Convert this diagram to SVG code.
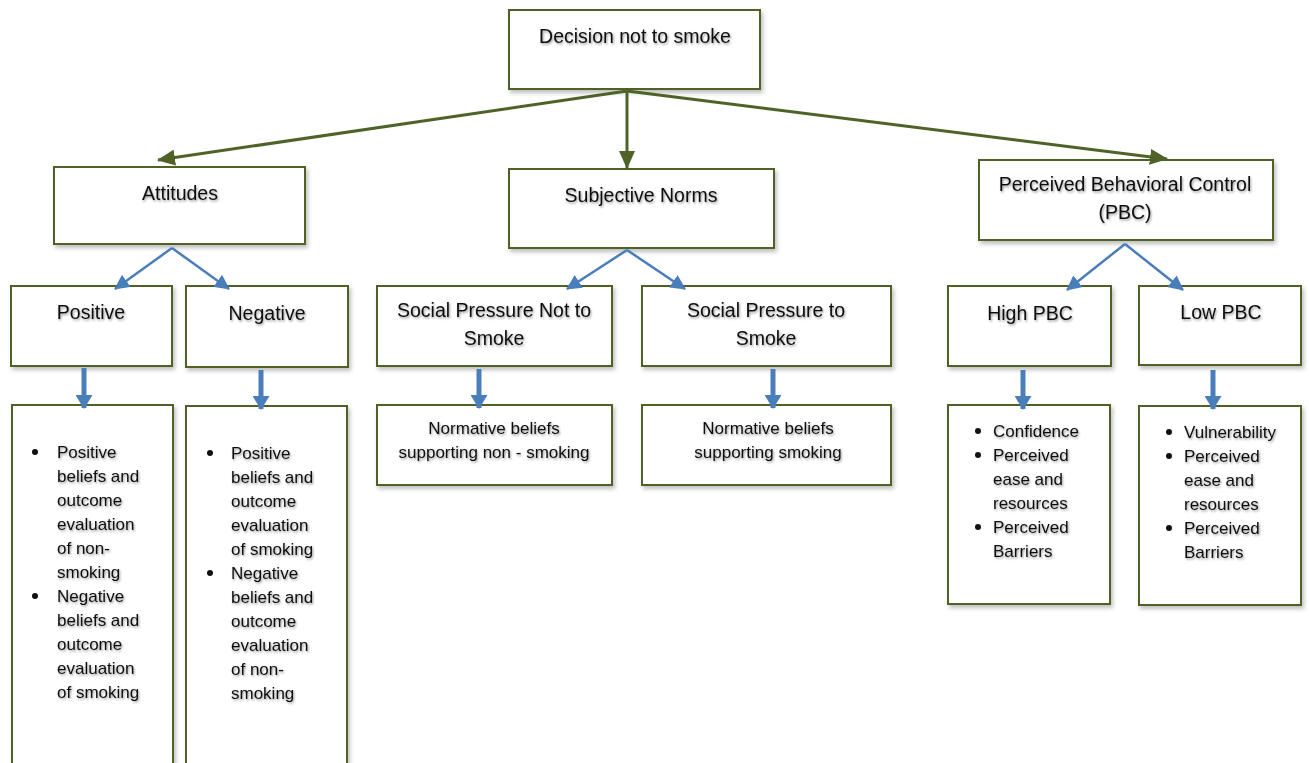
<svg xmlns="http://www.w3.org/2000/svg" width="1309" height="763" viewBox="0 0 1309 763">
<defs>
<filter id="sh" x="-10%" y="-10%" width="130%" height="130%">
<feDropShadow dx="2" dy="3" stdDeviation="2" flood-color="#000" flood-opacity="0.25"/>
</filter>
<filter id="tsh" x="-10%" y="-30%" width="130%" height="180%">
<feDropShadow dx="1" dy="1.5" stdDeviation="1.3" flood-color="#000" flood-opacity="0.4"/>
</filter>
<marker id="ga" viewBox="0 0 18 16" refX="17" refY="8" markerWidth="18" markerHeight="16" markerUnits="userSpaceOnUse" orient="auto">
<path d="M0,0 L18,8 L0,16 Z" fill="#4f6228"/>
</marker>
<marker id="ba" viewBox="0 0 15 15" refX="14" refY="7.5" markerWidth="15" markerHeight="15" markerUnits="userSpaceOnUse" orient="auto">
<path d="M0,0 L15,7.5 L0,15 Z" fill="#4a7ebb"/>
</marker>
<marker id="bb" viewBox="0 0 14 17" refX="13" refY="8.5" markerWidth="14" markerHeight="17" markerUnits="userSpaceOnUse" orient="auto">
<path d="M0,0 L14,8.5 L0,17 Z" fill="#4a7ebb"/>
</marker>
</defs>
<style>
.box{fill:#fff;stroke:#4f6228;stroke-width:2;filter:url(#sh)}
text{font-family:"Liberation Sans",Arial,sans-serif;fill:#111;filter:url(#tsh)}
.h{font-size:19.5px;text-anchor:middle}
.l{font-size:17px}
.c{font-size:17px;text-anchor:middle}
.g{stroke:#4f6228;stroke-width:3;fill:none;marker-end:url(#ga)}
.b{stroke:#4a7ebb;stroke-width:2.5;fill:none;marker-end:url(#ba)}
.bt{stroke:#4a7ebb;stroke-width:5;fill:none;marker-end:url(#bb)}
.dot{fill:#111}
</style>
<g id="decision">
<rect class="box" x="509" y="10" width="251" height="79"/>
<text class="h" x="635" y="43">Decision not to smoke</text>
</g>
<g id="attitudes">
<rect class="box" x="54" y="167" width="251" height="77"/>
<text class="h" x="180" y="200">Attitudes</text>
</g>
<g id="subjective-norms">
<rect class="box" x="509" y="169" width="265" height="79"/>
<text class="h" x="641" y="202">Subjective Norms</text>
</g>
<g id="pbc">
<rect class="box" x="979" y="160" width="294" height="80"/>
<text class="h" x="1125" y="191">Perceived Behavioral Control</text>
<text class="h" x="1125" y="219">(PBC)</text>
</g>
<g id="positive">
<rect class="box" x="11" y="286" width="161" height="80"/>
<text class="h" x="91" y="319">Positive</text>
</g>
<g id="negative">
<rect class="box" x="186" y="286" width="162" height="81"/>
<text class="h" x="267" y="320">Negative</text>
</g>
<g id="sp-not">
<rect class="box" x="377" y="286" width="235" height="80"/>
<text class="h" x="494" y="317">Social Pressure Not to</text>
<text class="h" x="494" y="345">Smoke</text>
</g>
<g id="sp-to">
<rect class="box" x="642" y="286" width="249" height="80"/>
<text class="h" x="766" y="317">Social Pressure to</text>
<text class="h" x="766" y="345">Smoke</text>
</g>
<g id="high-pbc">
<rect class="box" x="948" y="286" width="163" height="80"/>
<text class="h" x="1030" y="320">High PBC</text>
</g>
<g id="low-pbc">
<rect class="box" x="1139" y="286" width="162" height="79"/>
<text class="h" x="1221" y="319">Low PBC</text>
</g>
<g id="positive-list">
<rect class="box" x="12" y="405" width="161" height="400"/>
<circle class="dot" cx="35" cy="452" r="3"/>
<circle class="dot" cx="35" cy="596" r="3"/>
<text class="l" x="57" y="458">Positive</text>
<text class="l" x="57" y="482">beliefs and</text>
<text class="l" x="57" y="506">outcome</text>
<text class="l" x="57" y="530">evaluation</text>
<text class="l" x="57" y="554">of non-</text>
<text class="l" x="57" y="578">smoking</text>
<text class="l" x="57" y="602">Negative</text>
<text class="l" x="57" y="626">beliefs and</text>
<text class="l" x="57" y="650">outcome</text>
<text class="l" x="57" y="674">evaluation</text>
<text class="l" x="57" y="698">of smoking</text>
</g>
<g id="negative-list">
<rect class="box" x="186" y="406" width="161" height="400"/>
<circle class="dot" cx="210" cy="453" r="3"/>
<circle class="dot" cx="210" cy="573" r="3"/>
<text class="l" x="231" y="459">Positive</text>
<text class="l" x="231" y="483">beliefs and</text>
<text class="l" x="231" y="507">outcome</text>
<text class="l" x="231" y="531">evaluation</text>
<text class="l" x="231" y="555">of smoking</text>
<text class="l" x="231" y="579">Negative</text>
<text class="l" x="231" y="603">beliefs and</text>
<text class="l" x="231" y="627">outcome</text>
<text class="l" x="231" y="651">evaluation</text>
<text class="l" x="231" y="675">of non-</text>
<text class="l" x="231" y="699">smoking</text>
</g>
<g id="normative-non">
<rect class="box" x="377" y="405" width="235" height="80"/>
<text class="c" x="494" y="434">Normative beliefs</text>
<text class="c" x="494" y="458">supporting non - smoking</text>
</g>
<g id="normative-smoking">
<rect class="box" x="642" y="405" width="249" height="80"/>
<text class="c" x="768" y="434">Normative beliefs</text>
<text class="c" x="768" y="458">supporting smoking</text>
</g>
<g id="high-list">
<rect class="box" x="948" y="405" width="162" height="199"/>
<circle class="dot" cx="978" cy="431" r="3"/>
<circle class="dot" cx="978" cy="455" r="3"/>
<circle class="dot" cx="978" cy="527" r="3"/>
<text class="l" x="993" y="437">Confidence</text>
<text class="l" x="993" y="461">Perceived</text>
<text class="l" x="993" y="485">ease and</text>
<text class="l" x="993" y="509">resources</text>
<text class="l" x="993" y="533">Perceived</text>
<text class="l" x="993" y="557">Barriers</text>
</g>
<g id="low-list">
<rect class="box" x="1139" y="406" width="162" height="199"/>
<circle class="dot" cx="1169" cy="432" r="3"/>
<circle class="dot" cx="1169" cy="456" r="3"/>
<circle class="dot" cx="1169" cy="528" r="3"/>
<text class="l" x="1184" y="438">Vulnerability</text>
<text class="l" x="1184" y="462">Perceived</text>
<text class="l" x="1184" y="486">ease and</text>
<text class="l" x="1184" y="510">resources</text>
<text class="l" x="1184" y="534">Perceived</text>
<text class="l" x="1184" y="558">Barriers</text>
</g>
<g id="connectors">
<line class="g" x1="627" y1="91" x2="158" y2="160"/>
<line class="g" x1="627" y1="91" x2="627" y2="168"/>
<line class="g" x1="627" y1="91" x2="1167" y2="159"/>
<line class="b" x1="172" y1="248" x2="115" y2="289"/>
<line class="b" x1="172" y1="248" x2="229" y2="289"/>
<line class="b" x1="627" y1="250" x2="567" y2="289"/>
<line class="b" x1="627" y1="250" x2="685" y2="289"/>
<line class="b" x1="1125" y1="244" x2="1067" y2="290"/>
<line class="b" x1="1125" y1="244" x2="1183" y2="290"/>
<line class="bt" x1="84" y1="368" x2="84" y2="408"/>
<line class="bt" x1="261" y1="370" x2="261" y2="409"/>
<line class="bt" x1="479" y1="369" x2="479" y2="408"/>
<line class="bt" x1="773" y1="369" x2="773" y2="408"/>
<line class="bt" x1="1023" y1="370" x2="1023" y2="409"/>
<line class="bt" x1="1213" y1="370" x2="1213" y2="409"/>
</g>
</svg>
